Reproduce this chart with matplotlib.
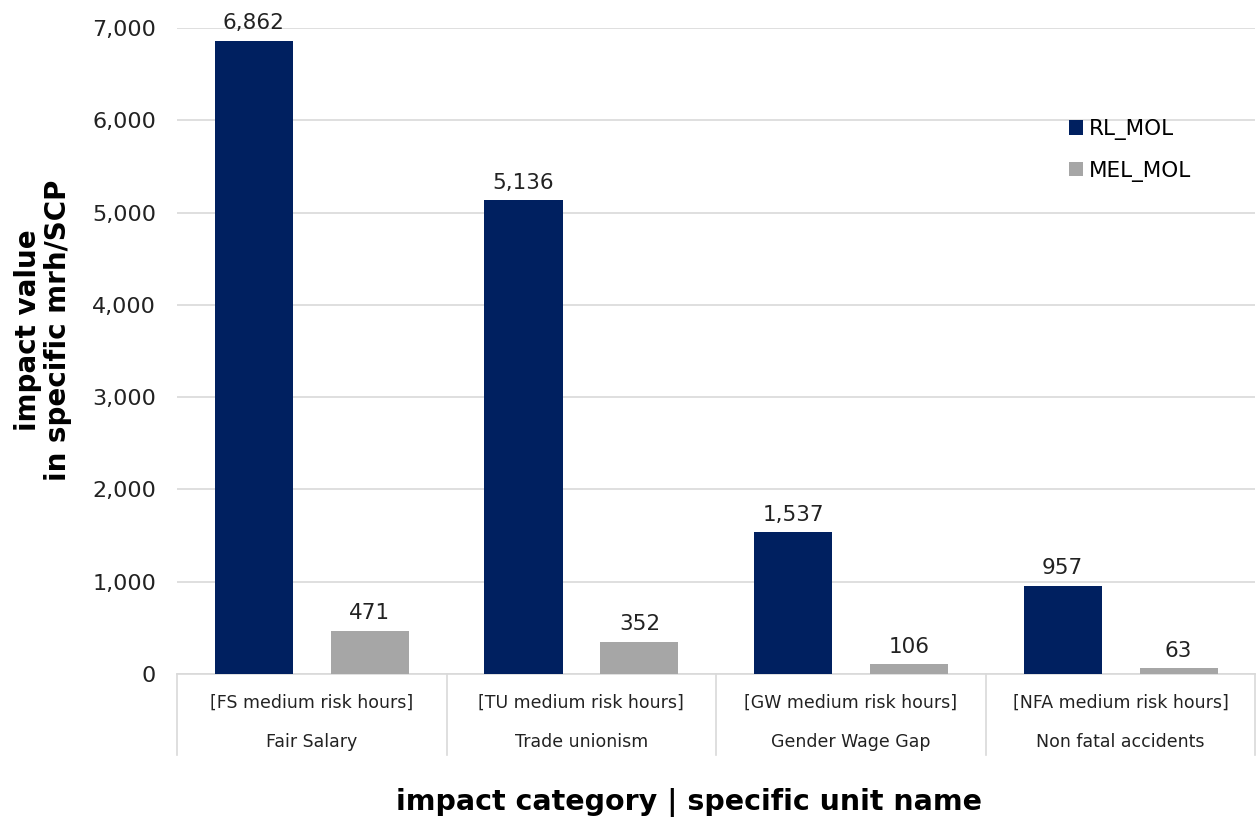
import numpy as np
import matplotlib.pyplot as plt
from matplotlib.ticker import FuncFormatter
import matplotlib.transforms as mtransforms

plt.rcParams['font.family'] = ['DejaVu Sans']

# Data
categories = ['Fair Salary', 'Trade unionism', 'Gender Wage Gap', 'Non fatal accidents']
units = ['[FS medium risk hours]', '[TU medium risk hours]',
         '[GW medium risk hours]', '[NFA medium risk hours]']
rl_mol = [6862, 5136, 1537, 957]
mel_mol = [471, 352, 106, 63]

navy = '#002060'
grey = '#A6A6A6'

fig = plt.figure(figsize=(12.58, 8.27), dpi=100)
ax = fig.add_axes([0.1407, 0.185, 0.8573, 0.781])

x = np.arange(len(categories))
w = 0.29
off = 0.215
b1 = ax.bar(x - off, rl_mol, w, color=navy, label='RL_MOL', zorder=3)
b2 = ax.bar(x + off, mel_mol, w, color=grey, label='MEL_MOL', zorder=3)

for bars, vals in ((b1, rl_mol), (b2, mel_mol)):
    for b, v in zip(bars, vals):
        ax.text(b.get_x() + b.get_width() / 2, v + 80, f'{v:,}',
                ha='center', va='bottom', fontsize=15.5, color='#222222')

ax.set_xlim(-0.5, len(categories) - 0.5)
ax.set_ylim(0, 7000)
ax.set_yticks(np.arange(0, 7001, 1000))
ax.yaxis.set_major_formatter(FuncFormatter(lambda v, p: f'{int(v):,}'))
ax.tick_params(axis='y', length=0, labelsize=16, pad=15, colors='#222222')
ax.set_xticks([])
ax.grid(axis='y', color='#D9D9D9', linewidth=1.2, zorder=0)
for s in ['top', 'right', 'left']:
    ax.spines[s].set_visible(False)
ax.spines['bottom'].set_color('#D9D9D9')
ax.spines['bottom'].set_linewidth(1.2)

# Two-level category axis below the plot
trans = mtransforms.blended_transform_factory(ax.transData, ax.transAxes)
for xb in np.arange(-0.5, len(categories) + 0.5, 1):
    ax.plot([xb, xb], [0, -0.125], transform=trans, color='#D9D9D9',
            linewidth=1.2, clip_on=False)
for xi, (u, c) in enumerate(zip(units, categories)):
    ax.text(xi, -0.045, u, transform=trans, ha='center', va='center',
            fontsize=12.5, color='#222222')
    ax.text(xi, -0.105, c, transform=trans, ha='center', va='center',
            fontsize=12.5, color='#222222')

ax.set_ylabel('impact value\nin specific mrh/SCP', fontsize=20, fontweight='bold',
              linespacing=1.1)
ax.yaxis.set_label_coords(-0.097, 0.532)
fig.text(0.548, 0.03, 'impact category | specific unit name', ha='center',
         va='center', fontsize=20.5, fontweight='bold')

ax.legend(loc='upper left', bbox_to_anchor=(0.827, 0.859), frameon=False,
          fontsize=15.5, handlelength=0.65, handleheight=0.65, handletextpad=0.3,
          labelspacing=0.95, borderpad=0, borderaxespad=0)

fig.savefig('out.png', dpi=100)
